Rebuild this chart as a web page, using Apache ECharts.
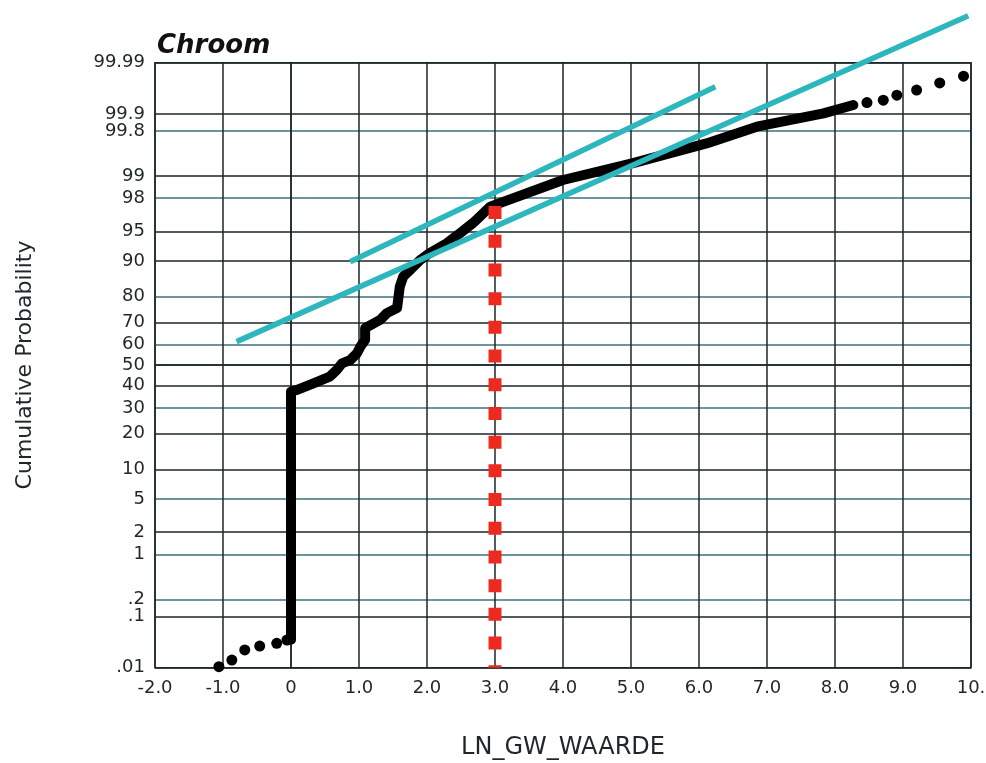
<!DOCTYPE html>
<html><head><meta charset="utf-8">
<script src="https://cdn.jsdelivr.net/npm/echarts@6/dist/echarts.min.js"></script>
<style>html,body{margin:0;padding:0;background:#fff}#c{width:986px;height:763px}</style>
</head><body><div id="c"></div>
<script>
// ---- data (x = LN_GW_WAARDE, y = cumulative probability in %) ----
const xTickValues = [-2,-1,0,1,2,3,4,5,6,7,8,9,10];
const xTickLabels = ['-2.0','-1.0','0','1.0','2.0','3.0','4.0','5.0','6.0','7.0','8.0','9.0','10.'];
const yTickProbs  = [0.01,0.1,0.2,1,2,5,10,20,30,40,50,60,70,80,90,95,98,99,99.8,99.9,99.99];
const yTickLabels = ['.01','.1','.2','1','2','5','10','20','30','40','50','60','70','80','90','95','98','99','99.8','99.9','99.99'];

const lowerTail = [[-1.06,0.0105],[-0.87,0.0144],[-0.68,0.0232],[-0.46,0.0277],[-0.21,0.0314],[-0.06,0.0364]];
const mainCurve = [[0,0.037],[0,37.2],[0.08,38.0],[0.33,41.2],[0.57,44.4],[0.67,47.6],[0.75,50.9],[0.87,52.5],
  [0.97,55.8],[1.02,59.0],[1.09,62.2],[1.09,67.6],[1.31,71.1],[1.41,73.9],[1.56,75.9],[1.60,83.3],[1.65,86.2],
  [1.80,88.7],[1.90,90.2],[2.04,91.6],[2.29,93.3],[2.49,94.8],[2.68,96.0],[2.93,97.44],[4.00,98.86],[5.03,99.35],
  [6.11,99.68],[6.85,99.832],[7.83,99.902],[8.27,99.931]];
const upperTail = [[8.47,99.938],[8.71,99.944],[8.91,99.955],[9.20,99.964],[9.54,99.974],[9.89,99.981]];
const fitLineSteep = [[0.87,89.85],[6.24,99.969]];
const fitLineLong  = [[-0.80,61.4],[9.96,99.99913]];
const cutoffLine   = [[3.0,97.48],[3.0,0.01]];

// normal-probability scale: percent -> z (Acklam inverse normal)
function probit(pct){
  const p = pct/100;
  const a=[-3.969683028665376e+01,2.209460984245205e+02,-2.759285104469687e+02,1.383577518672690e+02,-3.066479806614716e+01,2.506628277459239e+00];
  const b=[-5.447609879822406e+01,1.615858368580409e+02,-1.556989798598866e+02,6.680131188771972e+01,-1.328068155288572e+01];
  const c=[-7.784894002430293e-03,-3.223964580411365e-01,-2.400758277161838e+00,-2.549732539343734e+00,4.374664141464968e+00,2.938163982698783e+00];
  const d=[7.784695709041462e-03,3.224671290700398e-01,2.445134137142996e+00,3.754408661907416e+00];
  const pl=0.02425, ph=1-pl; let q,r;
  if(p<pl){q=Math.sqrt(-2*Math.log(p));return (((((c[0]*q+c[1])*q+c[2])*q+c[3])*q+c[4])*q+c[5])/((((d[0]*q+d[1])*q+d[2])*q+d[3])*q+1);}
  if(p<=ph){q=p-0.5;r=q*q;return (((((a[0]*r+a[1])*r+a[2])*r+a[3])*r+a[4])*r+a[5])*q/(((((b[0]*r+b[1])*r+b[2])*r+b[3])*r+b[4])*r+1);}
  q=Math.sqrt(-2*Math.log(1-p));return -(((((c[0]*q+c[1])*q+c[2])*q+c[3])*q+c[4])*q+c[5])/((((d[0]*q+d[1])*q+d[2])*q+d[3])*q+1);
}
const toZ = arr => arr.map(([x,p]) => [x, probit(p)]);
const yTickZ = yTickProbs.map(probit);

const DARK = '#1d2629', TEAL = '#3d6f7b';
const yLineColors = [DARK,DARK,TEAL,TEAL,DARK,TEAL,DARK,DARK,TEAL,DARK,DARK,TEAL,DARK,TEAL,DARK,DARK,TEAL,DARK,TEAL,DARK,DARK];
const FONT = 'DejaVu Sans';

const chart = echarts.init(document.getElementById('c'), null, {renderer:'canvas'});
chart.setOption({
  animation:false,
  backgroundColor:'#fff',
  grid:{left:155,right:15,top:62.7,bottom:95.3,show:true,borderColor:DARK,borderWidth:1.5,outerBoundsMode:'none'},
  xAxis:{type:'value',min:-2,max:10,interval:1,
    axisLine:{show:true,lineStyle:{color:DARK,width:1.5}},axisTick:{show:false},
    splitLine:{show:true,lineStyle:{color:DARK,width:1.5}},
    axisLabel:{showMinLabel:true,showMaxLabel:true,margin:12,fontSize:18,fontFamily:FONT,color:'#1e2629',
      formatter:v=>{const i=xTickValues.indexOf(Math.round(v));return i>=0?xTickLabels[i]:'';}}},
  yAxis:{type:'value',min:yTickZ[0],max:yTickZ[yTickZ.length-1],
    axisLine:{show:true,lineStyle:{color:DARK,width:1.5}},
    axisTick:{show:false,customValues:yTickZ},
    splitLine:{show:true,lineStyle:{color:yLineColors,width:1.5}},
    axisLabel:{customValues:yTickZ,margin:10,fontSize:18,fontFamily:FONT,color:'#1e2629',
      formatter:v=>{let bi=0,bd=1e9;yTickZ.forEach((z,i)=>{const d=Math.abs(z-v);if(d<bd){bd=d;bi=i;}});return yTickLabels[bi];}}},
  series:[
    {type:'line',data:toZ(mainCurve),showSymbol:false,symbol:'none',z:3,
      lineStyle:{color:'#000',width:10,cap:'round',join:'round'}},
    {type:'scatter',data:toZ(lowerTail.concat(upperTail)),symbol:'circle',symbolSize:11,z:3,itemStyle:{color:'#000',opacity:1}},
    {type:'line',data:toZ(fitLineSteep),symbol:'none',clip:false,z:5,lineStyle:{color:'#2db7bd',width:5.5}},
    {type:'line',data:toZ(fitLineLong),symbol:'none',clip:false,z:5,lineStyle:{color:'#2db7bd',width:5.5}},
    {type:'line',data:toZ(cutoffLine),symbol:'none',z:4,lineStyle:{color:'#ec2a1f',width:13,type:[13,15.7],cap:'butt'}}
  ],
  graphic:[
    {type:'text',x:157,y:46,style:{text:'Chroom',font:'italic bold 26px "DejaVu Sans"',fill:'#111',verticalAlign:'middle'}},
    {type:'text',x:25,y:365,rotation:Math.PI/2,style:{text:'Cumulative Probability',font:'22px "DejaVu Sans"',fill:'#1e2629',align:'center',verticalAlign:'middle'}},
    {type:'text',x:563,y:748,style:{text:'LN_GW_WAARDE',font:'24px "DejaVu Sans"',fill:'#1e2629',align:'center',verticalAlign:'middle'}}
  ]
});
</script></body></html>
